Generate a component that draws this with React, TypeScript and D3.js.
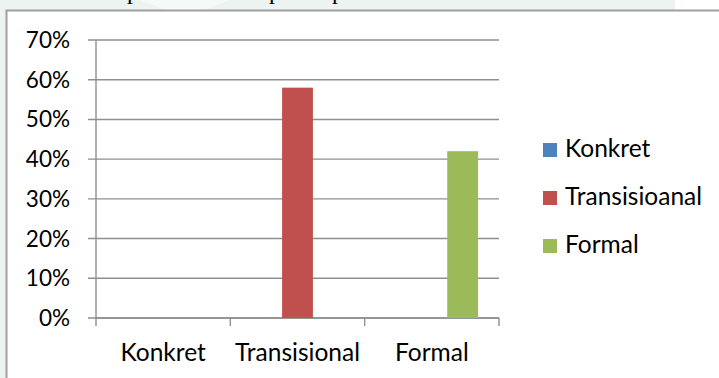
import React from "react";
import * as d3 from "d3";

const categories = ["Konkret", "Transisional", "Formal"];
const seriesNames = ["Konkret", "Transisioanal", "Formal"];
const seriesColors = ["#4F81BD", "#C0504D", "#9BBB59"];
const konkretValues = [0, 0, 0];
const transisioanalValues = [0, 0.58, 0];
const formalValues = [0, 0, 0.42];
const yTicks = [0, 0.1, 0.2, 0.3, 0.4, 0.5, 0.6, 0.7];

const seriesValues = [konkretValues, transisioanalValues, formalValues];

export default function App() {
  const W = 719;
  const H = 378;
  const plotL = 96;
  const plotR = 499;
  const plotT = 40;
  const plotB = 318;
  const font = "Lato, 'Noto Sans', sans-serif";
  const fsText = 24.5;
  const fsNum = 22.5;

  const x0 = d3.scaleBand<string>().domain(categories).range([plotL, plotR]).padding(0);
  const bw = x0.bandwidth();
  const x1 = d3
    .scaleBand<string>()
    .domain(seriesNames)
    .range([0, bw])
    .paddingInner(0)
    .paddingOuter(0.68);
  const y = d3.scaleLinear().domain([0, 0.7]).range([plotB, plotT]);
  const fmt = d3.format(".0%");

  const boundaries = [...categories.map((c) => x0(c) as number), plotR];

  return (
    <div style={{ position: "absolute", left: 0, top: 0 }}>
      <svg width={W} height={H} style={{ display: "block" }}>
        <rect x={0} y={0} width={W} height={H} fill="#edf3f1" />
        <rect x={675} y={0} width={W - 675} height={12} fill="#ffffff" />
        <polygon points="140,0 230,0 200,12 170,12" fill="#f6f9fa" />
        {[133, 275, 338].map((px, i) => (
          <text
            key={i}
            x={px}
            y={-1}
            fontFamily="'Liberation Serif', serif"
            fontSize={24}
            textAnchor="middle"
            fill="#000"
          >
            p
          </text>
        ))}
        <rect x={6.5} y={10.5} width={W + 20} height={H + 20} fill="#ffffff" stroke="#a0a0a0" strokeWidth={2} />

        {yTicks.map((t) => (
          <line
            key={"g" + t}
            x1={88}
            x2={plotR}
            y1={y(t)}
            y2={y(t)}
            stroke="#8f8f8f"
            strokeWidth={1.4}
          />
        ))}
        <line x1={plotL} x2={plotL} y1={plotT} y2={plotB} stroke="#8f8f8f" strokeWidth={1.4} />
        <line x1={plotL} x2={plotR} y1={plotB} y2={plotB} stroke="#8f8f8f" strokeWidth={1.4} />
        {boundaries.map((bx, i) => (
          <line key={"xt" + i} x1={bx} x2={bx} y1={plotB} y2={plotB + 8} stroke="#8f8f8f" strokeWidth={1.4} />
        ))}

        {seriesNames.map((s, si) =>
          categories.map((c, ci) => {
            const v = seriesValues[si][ci];
            if (v <= 0) return null;
            return (
              <rect
                key={s + c}
                x={(x0(c) as number) + (x1(s) as number)}
                y={y(v)}
                width={x1.bandwidth()}
                height={plotB - y(v)}
                fill={seriesColors[si]}
              />
            );
          })
        )}

        {yTicks.map((t) => (
          <text
            key={"yl" + t}
            x={70}
            y={y(t) + 8}
            textAnchor="end"
            fontFamily={font}
            fontSize={fsNum}
            fill="#000"
          >
            {fmt(t)}
          </text>
        ))}

        {categories.map((c) => (
          <text
            key={"xl" + c}
            x={(x0(c) as number) + bw / 2}
            y={361}
            textAnchor="middle"
            fontFamily={font}
            fontSize={fsText}
            fill="#000"
          >
            {c}
          </text>
        ))}

        {seriesNames.map((s, i) => {
          const by = 157 + i * 48;
          return (
            <g key={"lg" + s}>
              <rect x={543} y={by - 14} width={14} height={14} fill={seriesColors[i]} />
              <text x={565} y={by} fontFamily={font} fontSize={fsText} fill="#000">
                {s}
              </text>
            </g>
          );
        })}
      </svg>
    </div>
  );
}
